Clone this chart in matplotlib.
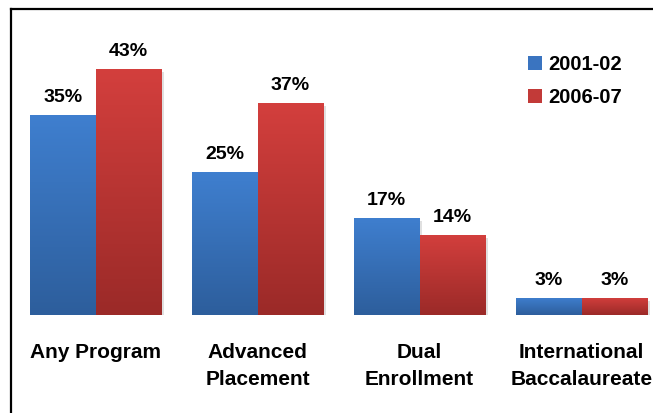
import numpy as np
import matplotlib.pyplot as plt
import matplotlib.patheffects as pe
from matplotlib.lines import Line2D
from matplotlib.patches import Patch

plt.rcParams['font.family'] = ['Liberation Sans', 'DejaVu Sans']
plt.rcParams['font.weight'] = 'bold'

# data
categories = ["Any Program", "Advanced\nPlacement", "Dual\nEnrollment", "International\nBaccalaureate"]
years = ["2001-02", "2006-07"]
vals_2001 = [35, 25, 17, 3]
vals_2006 = [43, 37, 14, 3]

blue_top, blue_bot = "#3f7fcf", "#2d5e9c"
red_top, red_bot = "#d33f3d", "#9b2a28"

W, H = 653, 413
fig = plt.figure(figsize=(W / 100, H / 100), dpi=100)

# axes placed so that baseline sits at y=315px, 5.72 px per percent
base_px = 315
px_per_pct = 5.72
ax = fig.add_axes([0, (H - base_px) / H, 1, base_px / H])
grp_px = 162.0
c0 = 95.5

x = np.arange(len(categories))
bw = 65.5 / grp_px

shadow = [pe.SimplePatchShadow(offset=(2, -2), shadow_rgbFace="#999999", alpha=0.3), pe.Normal()]
b1 = ax.bar(x - bw / 2, vals_2001, bw, color=blue_top, path_effects=shadow, zorder=2)
b2 = ax.bar(x + bw / 2, vals_2006, bw, color=red_top, path_effects=shadow, zorder=2)


def add_gradient(bars, top, bot):
    cmap = plt.matplotlib.colors.LinearSegmentedColormap.from_list("g", [bot, top])
    grad = np.linspace(0, 1, 128).reshape(-1, 1)
    for b in bars:
        x0, w, h = b.get_x(), b.get_width(), b.get_height()
        im = ax.imshow(grad, extent=[x0, x0 + w, 0, h], origin="lower",
                       cmap=cmap, aspect="auto", zorder=3)
        im.set_clip_path(b)


add_gradient(b1, blue_top, blue_bot)
add_gradient(b2, red_top, red_bot)
ax.set_ylim(0, base_px / px_per_pct)
ax.set_xlim(-c0 / grp_px, (W - c0) / grp_px)

for bars, vals in ((b1, vals_2001), (b2, vals_2006)):
    for b, v in zip(bars, vals):
        ax.annotate(f"{v}%", (b.get_x() + b.get_width() / 2, v), xytext=(0, 9.5),
                    textcoords="offset points", ha="center", va="baseline",
                    fontsize=14, fontweight="bold", zorder=4)

ax.set_xticks(x)
ax.set_xticklabels(categories, fontsize=15, fontweight="bold", linespacing=1.55)
ax.tick_params(axis="x", length=0, pad=20)
ax.set_yticks([])
for s in ax.spines.values():
    s.set_visible(False)
ax.patch.set_alpha(0)

handles = [Patch(facecolor="#3a74c0", label=years[0]), Patch(facecolor="#c23a38", label=years[1])]
leg = ax.legend(handles=handles, loc="upper left", bbox_to_anchor=(528 / W, (base_px - 55) / base_px),
                frameon=False, fontsize=14.5, handlelength=0.7, handleheight=0.7,
                handletextpad=0.3, labelspacing=0.7, borderaxespad=0, borderpad=0)
for t in leg.get_texts():
    t.set_fontweight("bold")

# outer frame (cropped slide border)
fig.add_artist(Line2D([11 / W, 11 / W], [0, 1 - 8.5 / H], color="black", lw=1.6,
                      transform=fig.transFigure))
fig.add_artist(Line2D([11 / W, 1], [1 - 8.5 / H, 1 - 8.5 / H], color="black", lw=1.6,
                      transform=fig.transFigure, solid_capstyle="projecting"))

fig.savefig("out.png", dpi=100)
